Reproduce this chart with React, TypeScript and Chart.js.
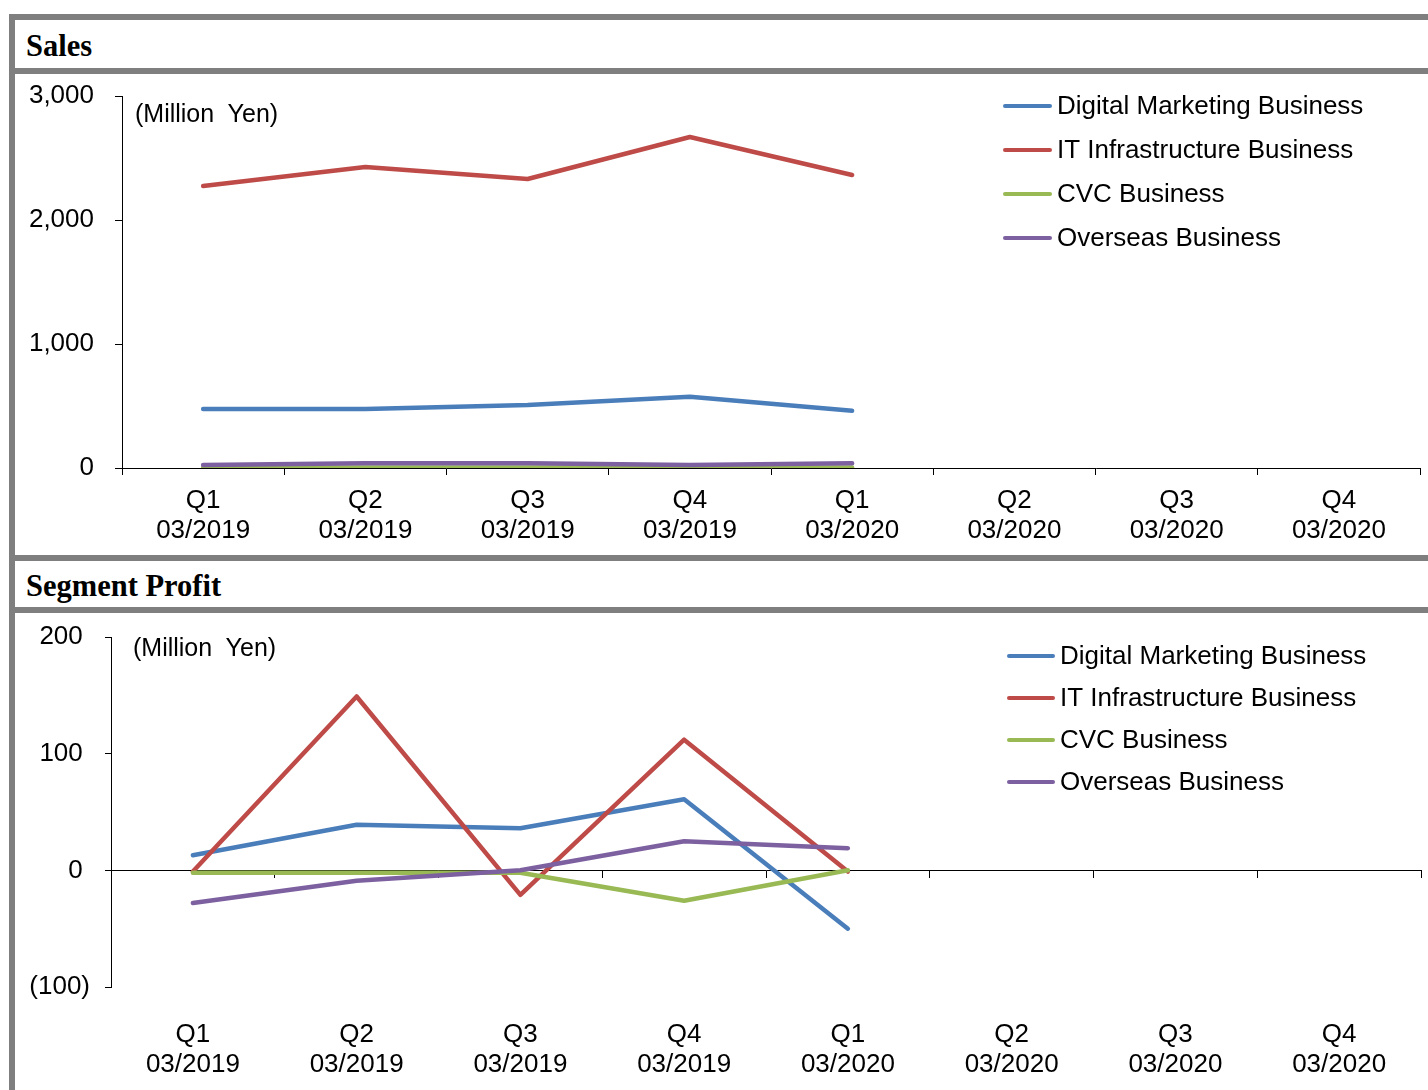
import React, { useEffect, useRef } from 'react';
import { Chart, registerables } from 'chart.js';

Chart.register(...registerables);

// ---------- data ----------
const categories: string[][] = [
  ['Q1', '03/2019'],
  ['Q2', '03/2019'],
  ['Q3', '03/2019'],
  ['Q4', '03/2019'],
  ['Q1', '03/2020'],
  ['Q2', '03/2020'],
  ['Q3', '03/2020'],
  ['Q4', '03/2020'],
];

const seriesNames = [
  'Digital Marketing Business',
  'IT Infrastructure Business',
  'CVC Business',
  'Overseas Business',
];
const seriesColors = ['#4A7EBB', '#BE4B48', '#98B954', '#7D60A0'];

// Sales (million yen)
const salesDigital = [476, 476, 508, 575, 462];
const salesIT = [2274, 2427, 2331, 2669, 2363];
const salesCVC = [2, 5, 5, 5, 5];
const salesOverseas = [24, 38, 38, 24, 38];

// Segment profit (million yen)
const profitDigital = [13, 39, 36, 61, -50];
const profitIT = [-1, 149, -21, 112, -1];
const profitCVC = [-2, -2, -2, -26, 0];
const profitOverseas = [-28, -9, 0, 25, 19];

const salesAxis = { min: 0, max: 3000, step: 1000 };
const profitAxis = { min: -100, max: 200, step: 100 };

const unitLabel = '(Million  Yen)';
const salesTitle = 'Sales';
const profitTitle = 'Segment Profit';

// ---------- styling ----------
const SANS = '"Liberation Sans", Arial, sans-serif';
const SERIF = '"Liberation Serif", "Times New Roman", serif';
const GRAY = '#7f7f7f';

const legendPlugin = {
  id: 'lineLegend',
  afterDraw(chart: any, _args: any, opts: any) {
    const ctx = chart.ctx as CanvasRenderingContext2D;
    ctx.save();
    chart.data.datasets.forEach((ds: any, i: number) => {
      const y = opts.y + i * opts.gap;
      ctx.strokeStyle = ds.borderColor;
      ctx.lineWidth = 4;
      ctx.lineCap = 'round';
      ctx.beginPath();
      ctx.moveTo(opts.x, y);
      ctx.lineTo(opts.x + opts.len, y);
      ctx.stroke();
      ctx.fillStyle = '#000';
      ctx.font = `26px ${SANS}`;
      ctx.textBaseline = 'middle';
      ctx.textAlign = 'left';
      ctx.fillText(ds.label, opts.textX, y + 1);
    });
    ctx.restore();
  },
};

function makeDatasets(values: number[][]) {
  return values.map((v, i) => ({
    label: seriesNames[i],
    data: v,
    borderColor: seriesColors[i],
    backgroundColor: seriesColors[i],
    borderWidth: 4.5,
    pointRadius: 0,
    tension: 0,
    fill: false,
    borderCapStyle: 'round' as const,
    borderJoinStyle: 'round' as const,
    order: values.length - i,
  }));
}

const tickFont = { family: SANS, size: 26, lineHeight: 1.15 };

function fitY(width: number) {
  return (s: any) => {
    s.width = width;
    s.paddingTop = 0;
    s.paddingBottom = 0;
  };
}

function SalesChart() {
  const ref = useRef<HTMLCanvasElement>(null);
  useEffect(() => {
    if (!ref.current) return;
    const chart = new Chart(ref.current, {
      type: 'line',
      data: {
        labels: categories,
        datasets: makeDatasets([salesDigital, salesIT, salesCVC, salesOverseas]),
      },
      plugins: [legendPlugin],
      options: {
        animation: false,
        responsive: false,
        maintainAspectRatio: false,
        devicePixelRatio: 1,
        layout: { padding: { top: 22, right: 8, left: 0, bottom: 0 } },
        plugins: {
          legend: { display: false },
          tooltip: { enabled: false },
          lineLegend: { x: 990, len: 45, textX: 1042, y: 32, gap: 44 },
        } as any,
        scales: {
          x: {
            type: 'category',
            offset: true,
            grid: { offset: true, drawOnChartArea: false, drawTicks: true, tickLength: 7, color: '#000', lineWidth: 1 },
            border: { color: '#000', width: 1 },
            ticks: { color: '#000', font: tickFont, padding: 11, maxRotation: 0, autoSkip: false },
            afterFit: (s: any) => { s.height = 87; },
          },
          y: {
            min: salesAxis.min,
            max: salesAxis.max,
            grid: { drawOnChartArea: false, drawTicks: true, tickLength: 7, color: '#000' },
            border: { color: '#000', width: 1 },
            ticks: {
              stepSize: salesAxis.step,
              color: '#000',
              font: tickFont,
              padding: 21,
              callback: (v: any) => Number(v).toLocaleString('en-US'),
            },
            afterFit: fitY(107),
          },
        },
      },
    });
    return () => chart.destroy();
  }, []);
  return <canvas ref={ref} width={1413} height={481} style={{ position: 'absolute', left: 15, top: 74, width: 1413, height: 481 }} />;
}

function ProfitChart() {
  const ref = useRef<HTMLCanvasElement>(null);
  useEffect(() => {
    if (!ref.current) return;
    const chart = new Chart(ref.current, {
      type: 'line',
      data: {
        labels: categories,
        datasets: makeDatasets([profitDigital, profitIT, profitCVC, profitOverseas]),
      },
      plugins: [legendPlugin],
      options: {
        animation: false,
        responsive: false,
        maintainAspectRatio: false,
        devicePixelRatio: 1,
        layout: { padding: { top: 24, right: 7, left: 0, bottom: 0 } },
        plugins: {
          legend: { display: false },
          tooltip: { enabled: false },
          lineLegend: { x: 994, len: 44, textX: 1045, y: 43, gap: 42 },
        } as any,
        scales: {
          x: {
            type: 'category',
            axis: 'x',
            position: { y: 0 },
            offset: true,
            grid: { offset: true, drawOnChartArea: false, drawTicks: true, tickLength: 7, color: '#000' },
            border: { color: '#000', width: 1 },
            ticks: { display: false, autoSkip: false },
          } as any,
          x2: {
            type: 'category',
            axis: 'x',
            position: 'bottom',
            offset: true,
            grid: { display: false, drawTicks: false },
            border: { display: false },
            ticks: { color: '#000', font: tickFont, padding: 33, maxRotation: 0, autoSkip: false },
            afterFit: (s: any) => { s.height = 103; },
          } as any,
          y: {
            min: profitAxis.min,
            max: profitAxis.max,
            grid: { drawOnChartArea: false, drawTicks: true, tickLength: 6, color: '#000' },
            border: { color: '#000', width: 1 },
            ticks: {
              stepSize: profitAxis.step,
              color: '#000',
              font: tickFont,
              padding: 15,
              callback: (v: any) => {
                const n = Number(v);
                return n < 0 ? `(${Math.abs(n).toLocaleString('en-US')})` : `${n.toLocaleString('en-US')} `;
              },
            },
            afterFit: fitY(96),
          },
        },
      },
    });
    return () => chart.destroy();
  }, []);
  return <canvas ref={ref} width={1413} height={477} style={{ position: 'absolute', left: 15, top: 613, width: 1413, height: 477 }} />;
}

const band = (left: number, top: number, width: number, height: number): React.CSSProperties => ({
  position: 'absolute', left, top, width, height, background: GRAY,
});

const headerStyle = (top: number): React.CSSProperties => ({
  position: 'absolute', left: 26, top, fontFamily: SERIF, fontWeight: 'bold', fontSize: 30.5, lineHeight: '30px',
  color: '#000', whiteSpace: 'nowrap',
});

const unitStyle = (left: number, top: number): React.CSSProperties => ({
  position: 'absolute', left, top, fontFamily: SANS, fontSize: 25, lineHeight: '25px', color: '#000', whiteSpace: 'pre',
});

export default function App() {
  return (
    <div style={{ position: 'absolute', left: 0, top: 0, width: 1428, height: 1090, overflow: 'hidden', background: '#fff' }}>
      <SalesChart />
      <ProfitChart />
      <div style={band(9, 14, 1419, 6)} />
      <div style={band(9, 14, 6, 1076)} />
      <div style={band(9, 68, 1419, 6)} />
      <div style={band(9, 555, 1419, 6)} />
      <div style={band(9, 607, 1419, 6)} />
      <div style={headerStyle(30.5)}>{salesTitle}</div>
      <div style={headerStyle(570.5)}>{profitTitle}</div>
      <div style={unitStyle(135, 100.5)}>{unitLabel}</div>
      <div style={unitStyle(133, 635)}>{unitLabel}</div>
    </div>
  );
}
